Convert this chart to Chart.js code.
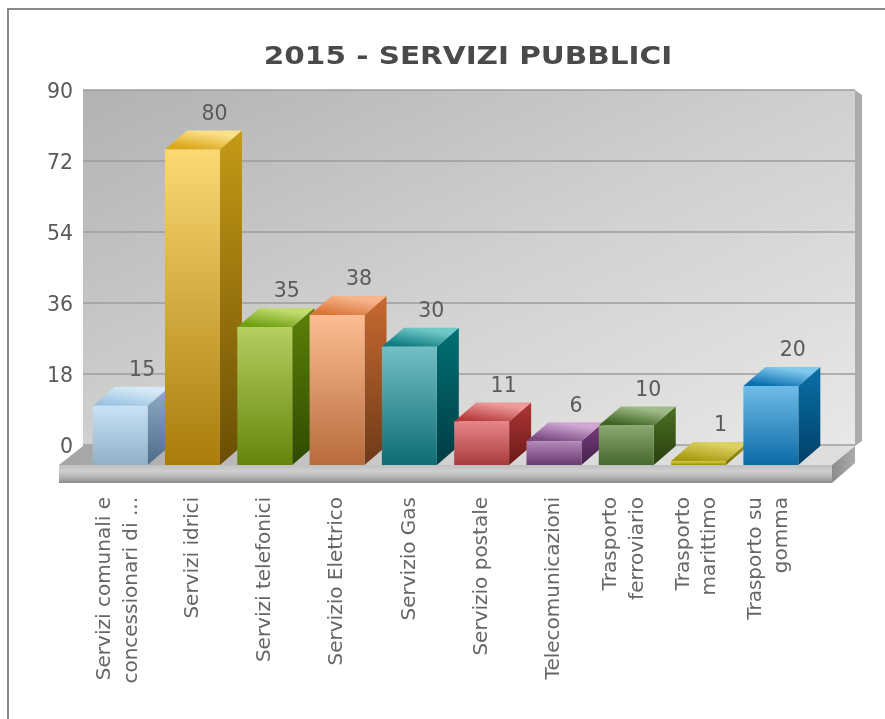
<!DOCTYPE html>
<html>
<head>
<meta charset="utf-8">
<title>2015 - SERVIZI PUBBLICI</title>
<script src="https://cdn.jsdelivr.net/npm/chart.js@4/dist/chart.umd.min.js"></script>
<style>
    html, body { margin: 0; height: 100%; background: #fff; overflow: hidden; }
    #frame { position: absolute; left: 7px; top: 8px; right: 0; bottom: 0; border-left: 2px solid #8a8a8a; border-top: 2px solid #8a8a8a; }
    #chart { position: absolute; left: 0; top: 0; filter: blur(0.5px); }
</style>
</head>
<body>
<div id="frame"></div>
<canvas id="chart" width="885" height="719"></canvas>
<script>
const categories = [
    ['Servizi comunali e', 'concessionari di ...'],
    'Servizi idrici',
    'Servizi telefonici',
    'Servizio Elettrico',
    'Servizio Gas',
    'Servizio postale',
    'Telecomunicazioni',
    ['Trasporto', 'ferroviario'],
    ['Trasporto', 'marittimo'],
    ['Trasporto su', 'gomma']
];
const values = [15, 80, 35, 38, 30, 11, 6, 10, 1, 20];
const yMax = 90;
const yStep = 18;

// front top/bottom, lid front/back, side top/bottom
const barColors = [
    ['#c8e2f6', '#8fb0c8', '#9cc4e2', '#d6e9f7', '#8fadc6', '#4c6c88'],
    ['#fbd973', '#a87c0c', '#dca615', '#fbe08a', '#c49a15', '#6b4e05'],
    ['#b5cf60', '#64860a', '#70a010', '#c0dc70', '#5b8208', '#2e4a00'],
    ['#fdbd92', '#b86b3c', '#d9763a', '#f7b48a', '#c86a30', '#6e3a18'],
    ['#72c0c6', '#0f6c74', '#0f7b80', '#70c8c8', '#007074', '#003c44'],
    ['#e8858a', '#a83c3c', '#b83a3a', '#ec9a9a', '#b03535', '#6a1a1a'],
    ['#b488b8', '#6a3a72', '#7a4a82', '#d0a8d4', '#7a3f80', '#45204c'],
    ['#8aa870', '#46682c', '#3e6420', '#a0bb88', '#4a7020', '#2a4010'],
    ['#d8cc40', '#a09010', '#a89a10', '#dcd060', '#a89a10', '#7a6e08'],
    ['#6fbce8', '#0c6aa5', '#0a70b0', '#80c8ec', '#0a70a8', '#003f68']
];

const depthX = 22;
const depthY = 19;
const textColor = '#5a5a5a';
const fontFamily = '"DejaVu Sans", Verdana, sans-serif';
const titleCenter = 468;
const titleStretch = 1.18;
const xLineHeight = 26.5;

function poly(ctx, pts, fill) {
    ctx.beginPath();
    pts.forEach((p, i) => i ? ctx.lineTo(p[0], p[1]) : ctx.moveTo(p[0], p[1]));
    ctx.closePath();
    ctx.fillStyle = fill;
    ctx.fill();
}

function grad(ctx, x0, y0, x1, y1, stops) {
    const g = ctx.createLinearGradient(x0, y0, x1, y1);
    stops.forEach((c, i) => g.addColorStop(i / (stops.length - 1), c));
    return g;
}

// the original title is wider than DejaVu Bold and sits right of centre
const titleShift = {
    id: 'titleShift',
    afterLayout(chart) {
        const t = chart.titleBlock;
        if (t._wrapped) return;
        t._wrapped = true;
        const draw = t.draw;
        t.draw = function () {
            const ctx = chart.ctx;
            const mid = (t.left + t.right) / 2;
            ctx.save();
            ctx.translate(titleCenter, 0);
            ctx.scale(titleStretch, 1);
            ctx.translate(-mid, 0);
            draw.call(t);
            ctx.restore();
        };
    },
    // two line labels are centred on the bar, not started from it
    beforeDraw(chart) {
        chart.scales.x.getLabelItems(chart.chartArea).forEach(item => {
            if (Array.isArray(item.label) && !item._centred) {
                item._centred = true;
                item.textOffset -= xLineHeight / 2 + 2;
            }
        });
    }
};

// back wall, grid lines and floor
const stage = {
    id: 'stage',
    beforeDatasetsDraw(chart) {
        const { ctx, chartArea: a, scales: { y } } = chart;
        const wallL = a.left - 1, wallR = a.right + 48, top = a.top, bot = a.bottom;
        const frontL = wallL - depthX - 2, frontR = wallR - depthX - 1, frontY = bot + depthY + 1;

        poly(ctx, [[wallR, top], [wallR + 7, top + 5], [wallR + 7, bot - 4], [wallR, bot + 1]], '#acacac');
        poly(ctx, [[wallL, top], [wallR, top], [wallR, bot + 1], [wallL, bot + 1]],
            grad(ctx, wallL, top, wallL + 269, top + 586, ['#b2b2b2', '#d0d0ce', '#e8e8e6']));

        ctx.strokeStyle = '#9c9c9c';
        ctx.lineWidth = 1.5;
        y.ticks.forEach(t => {
            const py = y.getPixelForValue(t.value);
            ctx.beginPath();
            ctx.moveTo(wallL, py);
            ctx.lineTo(wallR, py);
            ctx.stroke();
        });

        poly(ctx, [[frontL, frontY], [frontR, frontY], [wallR, bot + 1], [wallL, bot + 1]],
            grad(ctx, frontL, 0, frontR, 0, ['#a4a4a4', '#c4c4c4', '#dcdcdc', '#dedede']));
        poly(ctx, [[frontL, frontY], [frontR, frontY], [frontR, frontY + 18], [frontL, frontY + 18]],
            grad(ctx, 0, frontY, 0, frontY + 18, ['#c0c0c0', '#cfcfcf', '#b4b4b4', '#8c8c8c']));
        poly(ctx, [[frontR, frontY], [wallR, bot + 1], [wallR, bot + 18], [frontR, frontY + 18]],
            grad(ctx, frontR, 0, wallR, 0, ['#8c8c8c', '#ababab']));

        // bars stand on the front of the floor: shift them off the wall plane
        ctx.save();
        ctx.translate(0, depthY + 1);
        chart.getDatasetMeta(0).data.forEach((bar, i) => {
            const c = barColors[i];
            const r = bar.x + bar.width / 2, l = bar.x - bar.width / 2;
            poly(ctx, [[r, bar.y], [r + depthX, bar.y - depthY], [r + depthX, bar.base - depthY], [r, bar.base]],
                grad(ctx, 0, bar.y - depthY, 0, bar.base, [c[4], c[5]]));
            poly(ctx, [[l, bar.y], [r, bar.y], [r + depthX, bar.y - depthY], [l + depthX, bar.y - depthY]],
                grad(ctx, bar.x, bar.y, bar.x + 3, bar.y - depthY, [c[2], c[3]]));
        });
    },
    afterDatasetsDraw(chart) {
        const { ctx } = chart;
        ctx.restore();
        ctx.save();
        ctx.font = '20.5px ' + fontFamily;
        ctx.fillStyle = textColor;
        ctx.textAlign = 'center';
        ctx.textBaseline = 'middle';
        chart.getDatasetMeta(0).data.forEach((bar, i) => {
            ctx.fillText(values[i], bar.x + depthX, bar.y + 3 - 18);
        });
        ctx.restore();
    }
};

new Chart(document.getElementById('chart'), {
    type: 'bar',
    data: {
        labels: categories,
        datasets: [{
            data: values,
            barPercentage: 0.76,
            categoryPercentage: 1,
            clip: false,
            backgroundColor(c) {
                const y = c.chart.scales.y;
                const col = barColors[c.dataIndex];
                if (!y || !col) return '#999';
                const y0 = y.getPixelForValue(values[c.dataIndex]);
                const y1 = y.getPixelForValue(0);
                if (!isFinite(y0) || !isFinite(y1)) return col[0];
                return grad(c.chart.ctx, 0, y0, 0, y1, [col[0], col[1]]);
            }
        }]
    },
    options: {
        responsive: false,
        animation: false,
        layout: { padding: { left: 0, right: 78, top: 0, bottom: 0 } },
        plugins: {
            legend: { display: false },
            tooltip: { enabled: false },
            title: {
                display: true,
                text: '2015 - SERVIZI PUBBLICI',
                color: '#4a4a4a',
                font: { family: fontFamily, size: 25, weight: 'bold', lineHeight: 1.2 },
                padding: { top: 42, bottom: 18 }
            }
        },
        scales: {
            x: {
                grid: { display: false, drawTicks: false },
                border: { display: false },
                afterFit(s) { s.height = 274; },
                ticks: {
                    autoSkip: false,
                    minRotation: 90,
                    maxRotation: 90,
                    padding: 52,
                    color: '#666',
                    font: { family: fontFamily, size: 20, lineHeight: xLineHeight / 20 }
                }
            },
            y: {
                min: 0,
                max: yMax,
                grid: { display: false, drawTicks: false },
                border: { display: false },
                afterFit(s) { s.width = 84; },
                ticks: {
                    stepSize: yStep,
                    padding: 11,
                    labelOffset: 3,
                    color: textColor,
                    font: { family: fontFamily, size: 20.5 }
                }
            }
        }
    },
    plugins: [titleShift, stage]
});
</script>
</body>
</html>
